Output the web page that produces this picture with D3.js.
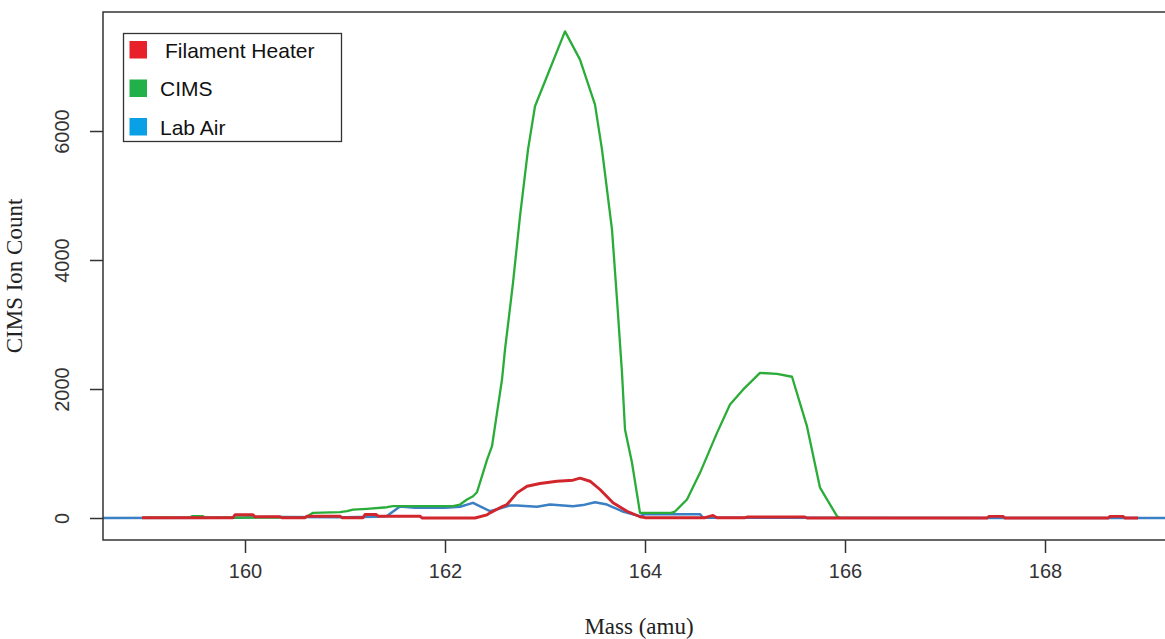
<!DOCTYPE html>
<html>
<head>
<meta charset="utf-8">
<script src="https://cdn.jsdelivr.net/npm/d3@7"></script>
<style>
  html, body { margin: 0; padding: 0; background: #ffffff; }
  svg { display: block; }
</style>
</head>
<body>
<svg id="chart" width="1165" height="639"></svg>
<script>
// ---------------- DATA ----------------
const seriesNames = ["Filament Heater", "CIMS", "Lab Air"];
const xTicks = [160, 162, 164, 166, 168];
const yTicks = [0, 2000, 4000, 6000];
const xTitle = "Mass (amu)";
const yTitle = "CIMS Ion Count";

// Lab Air (blue)
const labAirMass  = [158.5, 159.9, 160.2, 160.4, 161.0, 161.3, 161.42, 161.55, 161.7, 162.0, 162.15, 162.28, 162.45, 162.65, 162.72, 162.92, 163.05, 163.28, 163.38, 163.5, 163.62, 163.77, 163.95, 164.0, 164.55, 164.58, 169.0, 169.6];
const labAirCount = [0, 5, 15, 15, 10, 20, 30, 180, 160, 158, 175, 235, 105, 194, 194, 173, 209, 183, 200, 245, 209, 105, 28, 60, 60, 5, 0, 0];

// CIMS (green)
const cimsMass  = [159.0, 159.45, 159.47, 159.58, 159.6, 160.6, 160.68, 160.95, 161.02, 161.08, 161.22, 161.42, 161.48, 162.08, 162.15, 162.22, 162.28, 162.32, 162.38, 162.42, 162.47, 162.52, 162.57, 162.60, 162.68, 162.75, 162.83, 162.90, 163.20, 163.35, 163.50, 163.57, 163.67, 163.72, 163.77, 163.80, 163.87, 163.95, 164.26, 164.3, 164.42, 164.55, 164.72, 164.85, 164.98, 165.15, 165.32, 165.47, 165.62, 165.75, 165.92, 165.95];
const cimsCount = [5, 5, 28, 28, 5, 5, 80, 90, 105, 130, 143, 167, 183, 183, 209, 287, 338, 400, 700, 900, 1113, 1630, 2147, 2612, 3645, 4678, 5712, 6383, 7545, 7107, 6409, 5712, 4472, 3387, 2250, 1372, 856, 80, 80, 100, 287, 700, 1320, 1760, 1990, 2250, 2235, 2190, 1420, 470, 28, 5];

// Filament Heater (red)
const heaterMass  = [158.97, 159.88, 159.9, 160.08, 160.1, 160.35, 160.37, 160.6, 160.62, 160.95, 160.97, 161.18, 161.2, 161.31, 161.33, 161.75, 161.77, 162.3, 162.42, 162.45, 162.55, 162.62, 162.72, 162.82, 162.95, 163.12, 163.28, 163.35, 163.45, 163.55, 163.68, 163.82, 163.95, 164.0, 164.6, 164.68, 164.72, 165.0, 165.02, 165.6, 165.62, 167.42, 167.44, 167.58, 167.6, 168.63, 168.65, 168.78, 168.8, 168.93];
const heaterCount = [3, 3, 50, 50, 20, 20, 5, 5, 28, 28, 5, 5, 55, 55, 28, 28, 0, 0, 50, 80, 160, 209, 390, 493, 535, 570, 586, 617, 570, 442, 236, 105, 19, 5, 5, 40, 5, 5, 15, 15, 0, 0, 25, 25, 0, 0, 25, 25, 0, 0];

const lineColors   = { "Filament Heater": "#d1262c", "CIMS": "#2aac38", "Lab Air": "#3b7fc4" };
const legendColors = { "Filament Heater": "#e8202a", "CIMS": "#22b04b", "Lab Air": "#0aa0e6" };
const lineWidths   = { "Filament Heater": 2.9, "CIMS": 2.3, "Lab Air": 2.5 };

// ---------------- LAYOUT ----------------
const svg = d3.select("#chart");
const W = 1165, H = 639;
const plot = { left: 103, top: 12, right: 1175, bottom: 540 };

svg.append("rect").attr("width", W).attr("height", H).attr("fill", "#fff");

const x = d3.scaleLinear().domain([158.58, 169.30]).range([plot.left, plot.right]);
const y = d3.scaleLinear().domain([-341, 7845]).range([plot.bottom, plot.top]);

svg.append("defs").append("clipPath").attr("id", "clip")
  .append("rect")
  .attr("x", plot.left).attr("y", plot.top)
  .attr("width", plot.right - plot.left).attr("height", plot.bottom - plot.top);

const line = d3.line().x(d => x(d[0])).y(d => y(d[1]));
const zip = (a, b) => a.map((v, i) => [v, b[i]]);

const series = [
  { name: "Lab Air", data: zip(labAirMass, labAirCount) },
  { name: "CIMS", data: zip(cimsMass, cimsCount) },
  { name: "Filament Heater", data: zip(heaterMass, heaterCount) }
];

const g = svg.append("g").attr("clip-path", "url(#clip)");
series.forEach(s => {
  g.append("path")
    .attr("d", line(s.data))
    .attr("fill", "none")
    .attr("stroke", lineColors[s.name])
    .attr("stroke-width", lineWidths[s.name])
    .attr("stroke-linejoin", "round");
});

// box
svg.append("rect")
  .attr("x", plot.left).attr("y", plot.top)
  .attr("width", plot.right - plot.left).attr("height", plot.bottom - plot.top)
  .attr("fill", "none").attr("stroke", "#333").attr("stroke-width", 1.5);

// x axis
const xAxis = d3.axisBottom(x).tickValues(xTicks).tickSize(13).tickPadding(11).tickFormat(d3.format("d"));
const xg = svg.append("g").attr("transform", `translate(0,${plot.bottom})`).call(xAxis);
xg.select(".domain").remove();
xg.selectAll(".tick line").attr("stroke", "#333").attr("stroke-width", 1.5);
xg.selectAll(".tick text").attr("fill", "#333").style("font-family", "Liberation Sans, Arial, sans-serif").style("font-size", "20px");

// y axis
const yAxis = d3.axisLeft(y).tickValues(yTicks).tickSize(13).tickPadding(0).tickFormat(d3.format("d"));
const yg = svg.append("g").attr("transform", `translate(${plot.left},0)`).call(yAxis);
yg.select(".domain").remove();
yg.selectAll(".tick line").attr("stroke", "#333").attr("stroke-width", 1.5);
yg.selectAll(".tick text")
  .attr("fill", "#333")
  .attr("x", null).attr("dy", null)
  .attr("text-anchor", "middle")
  .attr("transform", "translate(-41,0) rotate(-90)")
  .attr("dominant-baseline", "central")
  .style("font-family", "Liberation Sans, Arial, sans-serif").style("font-size", "20px");

// titles
svg.append("text")
  .attr("x", (plot.left + plot.right) / 2).attr("y", 634)
  .attr("text-anchor", "middle")
  .attr("fill", "#222")
  .style("font-family", "Liberation Serif, Times New Roman, serif").style("font-size", "23px")
  .text(xTitle);

svg.append("text")
  .attr("transform", `translate(22,${(plot.top + plot.bottom) / 2}) rotate(-90)`)
  .attr("text-anchor", "middle")
  .attr("fill", "#222")
  .style("font-family", "Liberation Serif, Times New Roman, serif").style("font-size", "23px")
  .text(yTitle);

// legend
const lg = svg.append("g");
lg.append("rect").attr("x", 123.5).attr("y", 33.5).attr("width", 218).attr("height", 108)
  .attr("fill", "#fff").attr("stroke", "#333").attr("stroke-width", 1.3);
seriesNames.forEach((name, i) => {
  const cy = 50 + i * 38.5;
  lg.append("rect").attr("x", 129.5).attr("y", cy - 9).attr("width", 17.5).attr("height", 17.5)
    .attr("fill", legendColors[name]);
  lg.append("text").attr("x", i === 0 ? 165 : 160).attr("y", cy)
    .attr("dominant-baseline", "central")
    .attr("fill", "#111")
    .style("font-family", "Liberation Sans, Arial, sans-serif").style("font-size", "21px")
    .text(name);
});
</script>
</body>
</html>
